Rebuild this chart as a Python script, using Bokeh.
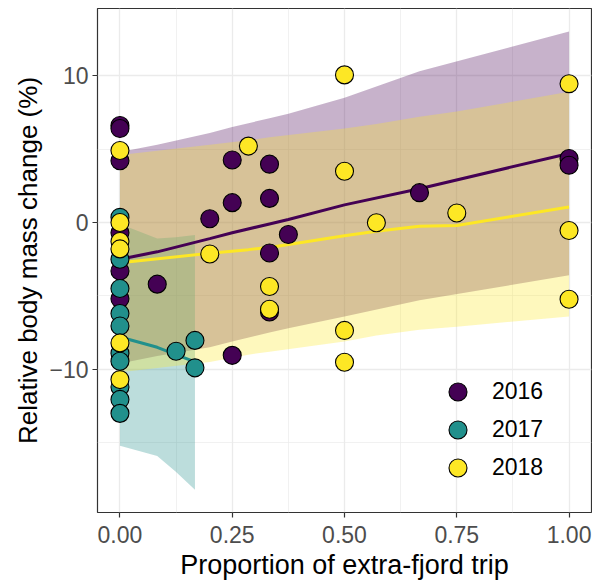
from bokeh.plotting import figure
from bokeh.models import Range1d, FixedTicker, Legend, LegendItem
from bokeh.embed import file_html
from bokeh.resources import INLINE

years = ["2016", "2017", "2018"]
colors = ["#440154", "#21908C", "#FDE725"]

# observed points
x16 = [0, 0, 0, 0, 0, 0, 0.083, 0.2, 0.25, 0.25, 0.25, 0.333, 0.333, 0.333, 0.333, 0.375, 0.667, 1.0, 1.0]
y16 = [6.6, 6.4, 4.2, -0.7, -3.3, -5.2, -4.2, 0.25, 4.25, 1.35, -9.05, 3.97, 1.64, -2.08, -6.1, -0.82, 2.03, 4.36, 3.9]

x17 = [0, 0, 0, 0, 0, 0, 0, 0, 0, 0, 0.125, 0.167, 0.167]
y17 = [0.35, -2.5, -4.5, -6.2, -7.05, -8.9, -9.45, -11.2, -12.05, -13.0, -8.77, -8.03, -9.9]

x18 = [0, 0, 0, 0, 0, 0, 0.2, 0.286, 0.333, 0.333, 0.5, 0.5, 0.5, 0.5, 0.571, 0.75, 1.0, 1.0, 1.0]
y18 = [4.9, 0.0, -1.3, -1.8, -8.2, -10.7, -2.15, 5.2, -4.36, -5.91, 10.05, 3.49, -7.35, -9.52, -0.02, 0.64, 9.45, -0.55, -5.23]

# model predictions (fit and interval)
px16 = [0, 0.083, 0.2, 0.25, 0.333, 0.375, 0.5, 0.667, 1.0]
fit16 = [-2.5, -2.0, -1.1, -0.7, -0.1, 0.2, 1.2, 2.3, 4.7]
lo16 = [-9.6, -9.1, -8.5, -8.1, -7.5, -7.2, -6.4, -5.3, -3.6]
hi16 = [4.8, 5.3, 6.1, 6.5, 7.1, 7.4, 8.5, 10.3, 13.0]

px17 = [0, 0.083, 0.125, 0.167]
fit17 = [-7.8, -8.5, -9.0, -9.5]
lo17 = [-15.2, -15.9, -17.0, -18.2]
hi17 = [-0.1, -1.1, -1.0, -0.85]

px18 = [0, 0.2, 0.286, 0.333, 0.5, 0.571, 0.667, 0.75, 1.0]
fit18 = [-2.75, -2.1, -1.85, -1.7, -0.9, -0.6, -0.25, -0.2, 1.05]
lo18 = [-10.2, -9.5, -9.0, -8.8, -8.1, -7.7, -7.3, -7.1, -6.4]
hi18 = [4.6, 5.3, 5.6, 5.8, 6.4, 6.7, 7.2, 7.55, 8.9]

x_ticks = [0, 0.25, 0.5, 0.75, 1.0]
x_tick_labels = ["0.00", "0.25", "0.50", "0.75", "1.00"]
x_minor = [0.125, 0.375, 0.625, 0.875]
y_ticks = [-10, 0, 10]
y_minor = [-15, -5, 5]

FONT = "Liberation Sans"

p = figure(width=592, height=584, output_backend="svg", toolbar_location=None,
           x_range=Range1d(-0.05, 1.05), y_range=Range1d(-19.75, 14.57),
           min_border_left=97, min_border_right=1, min_border_top=8, min_border_bottom=72)

p.background_fill_color = "white"
p.border_fill_color = "white"
p.outline_line_color = "#333333"
p.outline_line_width = 1.2

p.xaxis.ticker = FixedTicker(ticks=x_ticks, minor_ticks=x_minor)
p.yaxis.ticker = FixedTicker(ticks=y_ticks, minor_ticks=y_minor)
p.xaxis.major_label_overrides = {t: l for t, l in zip(x_ticks, x_tick_labels)}

for ax in (p.xaxis, p.yaxis):
    ax.axis_line_color = None
    ax.major_tick_line_color = "#333333"
    ax.major_tick_line_width = 1.2
    ax.major_tick_out = 5
    ax.major_tick_in = 0
    ax.minor_tick_line_color = None
    ax.major_label_text_font = FONT
    ax.major_label_text_font_size = "23px"
    ax.major_label_text_color = "#4D4D4D"
    ax.axis_label_text_font = FONT
    ax.axis_label_text_font_style = "normal"
    ax.axis_label_text_color = "black"

p.xaxis.axis_label = "Proportion of extra-fjord trip"
p.yaxis.axis_label = "Relative body mass change (%)"
p.xaxis.axis_label_text_font_size = "27px"
p.yaxis.axis_label_text_font_size = "26px"
p.xaxis.major_label_standoff = 8
p.yaxis.major_label_standoff = 4
p.xaxis.axis_label_standoff = 4
p.yaxis.axis_label_standoff = 3

p.xgrid.grid_line_color = "#EBEBEB"
p.ygrid.grid_line_color = "#EBEBEB"
p.xgrid.grid_line_width = 1.3
p.ygrid.grid_line_width = 1.3
p.xgrid.minor_grid_line_color = "#EBEBEB"
p.ygrid.minor_grid_line_color = "#EBEBEB"
p.xgrid.minor_grid_line_width = 0.7
p.ygrid.minor_grid_line_width = 0.7

preds = [(px16, fit16, lo16, hi16), (px17, fit17, lo17, hi17), (px18, fit18, lo18, hi18)]
pts = [(x16, y16), (x17, y17), (x18, y18)]

for (px, fit, lo, hi), c in zip(preds, colors):
    p.varea(x=px, y1=lo, y2=hi, fill_color=c, fill_alpha=0.3)
for (px, fit, lo, hi), c in zip(preds, colors):
    p.line(x=px, y=fit, line_color=c, line_width=3)

# one legend per year so the keys sit 38px apart with 18px markers
legend_y = [98, 60, 22]
for (xs, ys), c, yr, ly in zip(pts, colors, years, legend_y):
    r = p.scatter(x=xs, y=ys, size=18, fill_color=c, line_color="black", line_width=1.1)
    lg = Legend(items=[LegendItem(label=yr, renderers=[r])], location=(338, ly),
                glyph_width=45, glyph_height=45, padding=0, margin=0, spacing=0,
                label_standoff=12, label_text_font=FONT, label_text_font_size="23px",
                label_text_color="black", label_text_baseline="middle",
                background_fill_alpha=0, border_line_alpha=0)
    p.add_layout(lg)

open("out.html", "w").write(file_html(p, INLINE))
